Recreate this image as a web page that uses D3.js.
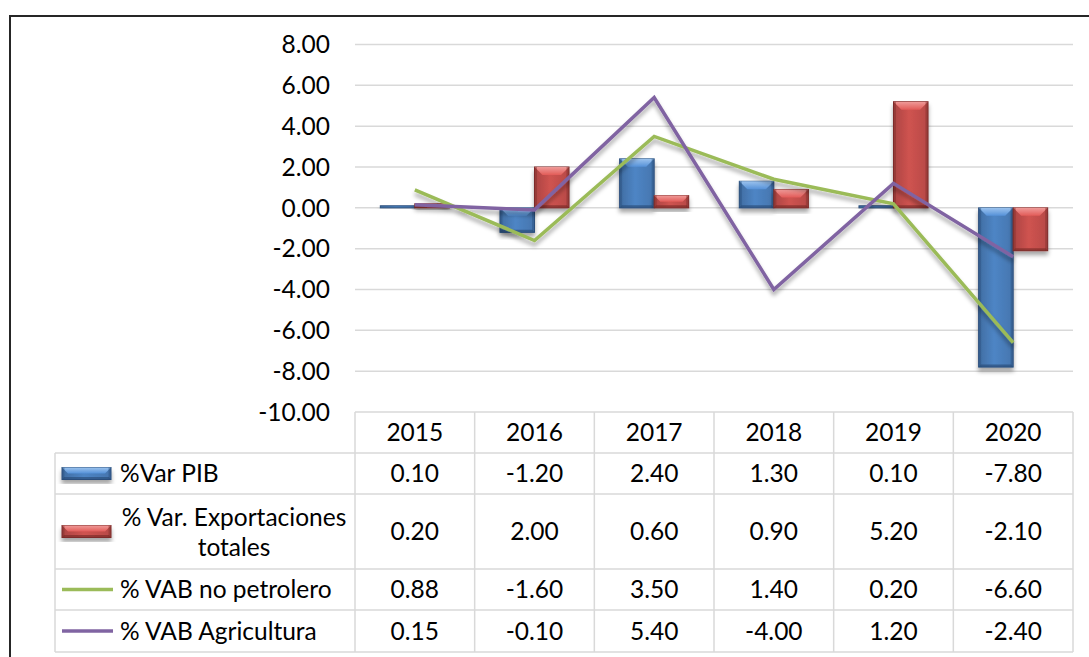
<!DOCTYPE html>
<html>
<head>
<meta charset="utf-8">
<script src="https://cdn.jsdelivr.net/npm/d3@7/dist/d3.min.js"></script>
<style>
  body { margin: 0; background: #fff; }
  svg { display: block; font-family: Lato, "Open Sans", sans-serif; }
</style>
</head>
<body>
<svg id="chart" width="1089" height="657"></svg>
<script>
// data
const years = ["2015", "2016", "2017", "2018", "2019", "2020"];
const varPib = [0.10, -1.20, 2.40, 1.30, 0.10, -7.80];
const varExport = [0.20, 2.00, 0.60, 0.90, 5.20, -2.10];
const vabNoPetrolero = [0.88, -1.60, 3.50, 1.40, 0.20, -6.60];
const vabAgricultura = [0.15, -0.10, 5.40, -4.00, 1.20, -2.40];
const yTicks = [8, 6, 4, 2, 0, -2, -4, -6, -8, -10];

const barSeries = [
    { name: "%Var PIB", values: varPib, base: "#4a7ebb", light: "#9cc3ee", dark: "#2b4f7c" },
    { name: "% Var. Exportaciones totales", values: varExport, base: "#c44f4c", light: "#ef9b99", dark: "#7d2c2a" }
];
const lineSeries = [
    { name: "% VAB no petrolero", values: vabNoPetrolero, color: "#9bbb59" },
    { name: "% VAB Agricultura", values: vabAgricultura, color: "#8064a2" }
];

const svg = d3.select("#chart");
const fontSize = 24.5;
const gridColor = "#d9d9d9";
// hyphen minus, like the original
const fmt = d3.formatLocale({ decimal: ".", thousands: ",", grouping: [3], currency: ["", ""], minus: "-" }).format(".2f");

// layout
const plot = { left: 355, right: 1073, top: 44.5, bottom: 412 };
const legendLeft = 55;
const rowEdges = [412, 453, 494, 569, 610, 652];

const x0 = d3.scaleBand().domain(years).range([plot.left, plot.right]).paddingInner(0.423).paddingOuter(0.2115);
const x1 = d3.scaleBand().domain(barSeries.map(s => s.name)).range([0, x0.bandwidth()]);
const y = d3.scaleLinear().domain([-10, 8]).range([plot.bottom, plot.top]);
const xc = d => x0(d) + x0.bandwidth() / 2;

const defs = svg.append("defs");
const shadow = defs.append("filter").attr("id", "shadow")
    .attr("x", "-30%").attr("y", "-30%").attr("width", "160%").attr("height", "160%");
shadow.append("feDropShadow").attr("dx", 0).attr("dy", 4).attr("stdDeviation", 2.2)
    .attr("flood-color", "#000").attr("flood-opacity", 0.35);

barSeries.forEach((s, i) => {
    const g = defs.append("linearGradient").attr("id", "body" + i).attr("x1", 0).attr("x2", 1).attr("y1", 0).attr("y2", 0);
    g.append("stop").attr("offset", "0%").attr("stop-color", d3.color(s.base).darker(0.4));
    g.append("stop").attr("offset", "45%").attr("stop-color", d3.color(s.base).brighter(0.15));
    g.append("stop").attr("offset", "100%").attr("stop-color", d3.color(s.base).darker(0.2));
    const t = defs.append("linearGradient").attr("id", "top" + i).attr("x1", 0).attr("x2", 0).attr("y1", 0).attr("y2", 1);
    t.append("stop").attr("offset", "0%").attr("stop-color", s.light);
    t.append("stop").attr("offset", "100%").attr("stop-color", d3.color(s.base).brighter(0.4));
});

// outer frame
svg.append("rect").attr("x", 10).attr("y", 16).attr("width", 1100).attr("height", 700)
    .attr("fill", "none").attr("stroke", "#262626").attr("stroke-width", 2);

// gridlines
svg.append("g").selectAll("line").data(yTicks.filter(t => t > -10)).join("line")
    .attr("x1", plot.left).attr("x2", plot.right)
    .attr("y1", d => y(d)).attr("y2", d => y(d))
    .attr("stroke", gridColor).attr("stroke-width", 1.5);

// y axis labels
svg.append("g").selectAll("text").data(yTicks).join("text")
    .attr("x", 330).attr("y", d => y(d)).attr("dy", "0.36em")
    .attr("text-anchor", "end").attr("font-size", fontSize).attr("fill", "#000")
    .text(d => fmt(d));

// bevelled bar
function drawBar(g, s, si, x, top, w, h) {
    const b = Math.min(8, h / 2, w / 3);
    const grp = g.append("g").attr("filter", "url(#shadow)");
    grp.append("rect").attr("x", x).attr("y", top).attr("width", w).attr("height", h)
        .attr("fill", `url(#body${si})`).attr("stroke", s.dark).attr("stroke-width", 1);
    if (h > 3) {
        grp.append("polygon")
            .attr("points", [[x, top], [x + w, top], [x + w - b, top + b], [x + b, top + b]].join(" "))
            .attr("fill", `url(#top${si})`);
        grp.append("polygon")
            .attr("points", [[x, top + h], [x + w, top + h], [x + w - 2, top + h - 2.5], [x + 2, top + h - 2.5]].join(" "))
            .attr("fill", s.dark).attr("opacity", 0.7);
        grp.append("rect").attr("x", x).attr("y", top).attr("width", 2.5).attr("height", h)
            .attr("fill", s.dark).attr("opacity", 0.45);
        grp.append("rect").attr("x", x + w - 2.5).attr("y", top).attr("width", 2.5).attr("height", h)
            .attr("fill", s.dark).attr("opacity", 0.45);
    }
}

// bars
const barsG = svg.append("g");
barSeries.forEach((s, si) => {
    s.values.forEach((v, i) => {
        const bx = x0(years[i]) + x1(s.name);
        const top = Math.min(y(v), y(0));
        const h = Math.max(Math.abs(y(v) - y(0)), 1.2);
        drawBar(barsG, s, si, bx, top, x1.bandwidth(), h);
    });
});

// lines
const line = d3.line().x((d, i) => xc(years[i])).y(d => y(d));
const linesG = svg.append("g").attr("filter", "url(#shadow)");
lineSeries.forEach(s => {
    linesG.append("path").datum(s.values).attr("d", line)
        .attr("fill", "none").attr("stroke", s.color).attr("stroke-width", 3.5)
        .attr("stroke-linejoin", "miter");
});

// data table grid
const tbl = svg.append("g").attr("stroke", gridColor).attr("stroke-width", 1.5).attr("fill", "none");
rowEdges.forEach((ry, i) => {
    tbl.append("line").attr("x1", i === 0 ? plot.left : legendLeft).attr("x2", plot.right)
        .attr("y1", ry).attr("y2", ry);
});
const colEdges = years.map(d => x0(d) - x0.step() * x0.paddingInner() / 2).concat([plot.right]);
colEdges.forEach(cx => {
    tbl.append("line").attr("x1", cx).attr("x2", cx).attr("y1", rowEdges[0]).attr("y2", rowEdges[5]);
});
tbl.append("line").attr("x1", legendLeft).attr("x2", legendLeft).attr("y1", rowEdges[1]).attr("y2", rowEdges[5]);

// header years
svg.append("g").selectAll("text").data(years).join("text")
    .attr("x", d => xc(d)).attr("y", (rowEdges[0] + rowEdges[1]) / 2).attr("dy", "0.36em")
    .attr("text-anchor", "middle").attr("font-size", fontSize).text(d => d);

// value rows
const rows = [barSeries[0], barSeries[1], lineSeries[0], lineSeries[1]];
rows.forEach((s, ri) => {
    const cy = (rowEdges[ri + 1] + rowEdges[ri + 2]) / 2;
    svg.append("g").selectAll("text").data(s.values).join("text")
        .attr("x", (d, i) => xc(years[i])).attr("y", cy).attr("dy", "0.36em")
        .attr("text-anchor", "middle").attr("font-size", fontSize)
        .text(d => fmt(d));

    // legend key
    const kx = 62;
    if (ri < 2) {
        drawBar(svg.append("g"), s, ri, kx, cy - 6, 49, 12);
    } else {
        svg.append("line").attr("x1", kx).attr("x2", kx + 51).attr("y1", cy).attr("y2", cy)
            .attr("stroke", s.color).attr("stroke-width", 3.5);
    }
    // legend label
    if (ri === 1) {
        const lab = svg.append("text").attr("text-anchor", "middle").attr("font-size", fontSize);
        lab.append("tspan").attr("x", 234).attr("y", cy - 14).attr("dy", "0.36em").text("% Var. Exportaciones");
        lab.append("tspan").attr("x", 234).attr("y", cy + 15.5).attr("dy", "0.36em").text("totales");
    } else {
        svg.append("text").attr("x", 120).attr("y", cy).attr("dy", "0.36em")
            .attr("font-size", fontSize).text(s.name);
    }
});
</script>
</body>
</html>
